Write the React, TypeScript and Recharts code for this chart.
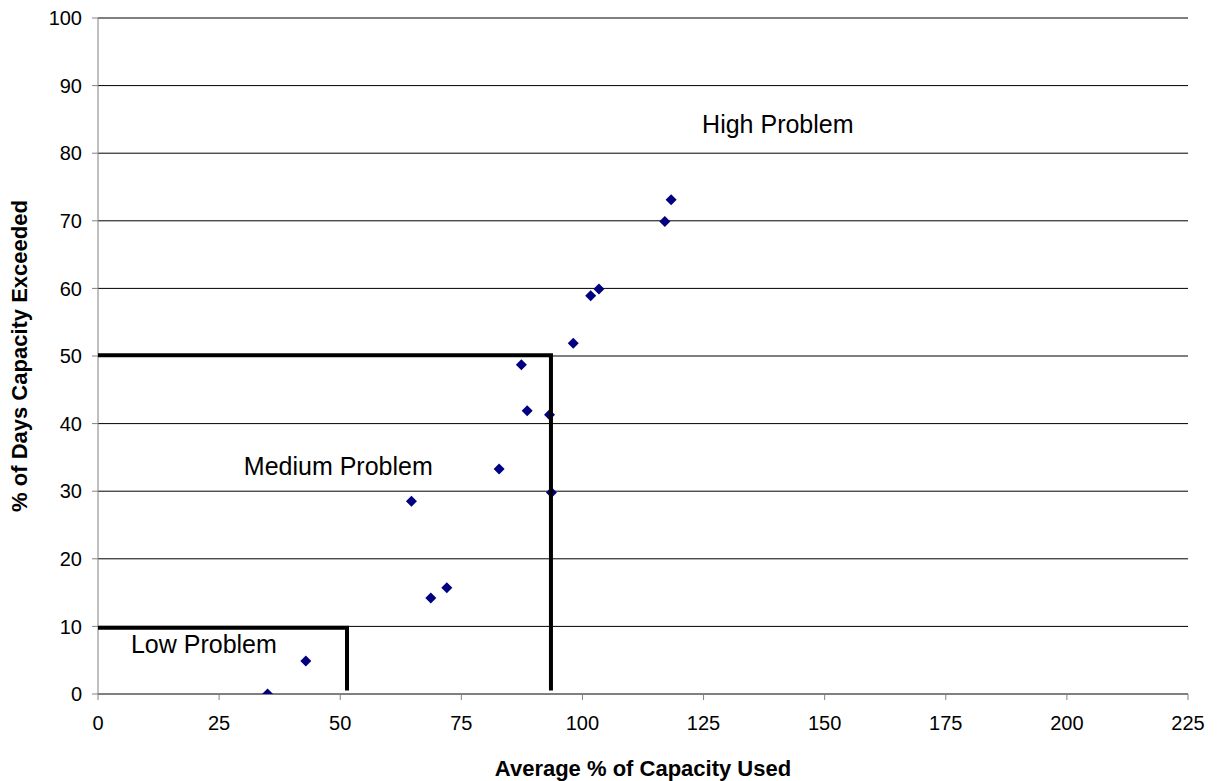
import { ScatterChart, Scatter, XAxis, YAxis, CartesianGrid, ReferenceDot, Label } from 'recharts';

// measured sites: average % of capacity used vs % of days capacity exceeded
const capacityUsed = [35, 42.9, 64.7, 68.7, 72.0, 82.8, 87.4, 88.6, 93.2, 93.6, 98.1, 101.7, 103.4, 117.0, 118.3];
const daysExceeded = [0, 4.9, 28.5, 14.2, 15.7, 33.3, 48.7, 41.9, 41.3, 29.8, 51.9, 58.9, 59.9, 69.9, 73.1];

// threshold boundaries (polylines)
const lowBoundX = [0, 51.4, 51.4];
const lowBoundY = [9.8, 9.8, 0.5];
const medBoundX = [0, 93.5, 93.5];
const medBoundY = [50.1, 50.1, 0.5];

const xTicks = [0, 25, 50, 75, 100, 125, 150, 175, 200, 225];
const yTicks = [0, 10, 20, 30, 40, 50, 60, 70, 80, 90, 100];

const zoneNames = ['High Problem', 'Medium Problem', 'Low Problem'];
const zoneX = [124.7, 30.1, 6.8];
const zoneY = [84.3, 33.7, 7.4];

const points = capacityUsed.map((x, i) => ({ x, y: daysExceeded[i] }));
const lowBound = lowBoundX.map((x, i) => ({ x, y: lowBoundY[i] }));
const medBound = medBoundX.map((x, i) => ({ x, y: medBoundY[i] }));

const FONT = '"Liberation Sans", Arial, sans-serif';

const Diamond = (props: any) => {
  const { cx, cy } = props;
  const r = 5.5;
  return (
    <path
      d={`M${cx},${cy - r}L${cx + r},${cy}L${cx},${cy + r}L${cx - r},${cy}Z`}
      fill="#000080"
    />
  );
};

const NoDot = () => null;

export default function App() {
  return (
    <div style={{ position: 'absolute', left: 0, top: 0, background: '#fff' }}>
      <ScatterChart
        width={1226}
        height={781}
        margin={{ top: 18, right: 38, bottom: 0, left: 0 }}
        style={{ fontFamily: FONT }}
      >
        <CartesianGrid vertical={false} stroke="#000" strokeWidth={1} />
        <XAxis
          type="number"
          dataKey="x"
          domain={[0, 225]}
          ticks={xTicks}
          height={87}
          stroke="#808080"
          tickSize={6}
          tickMargin={16}
          tick={{ fill: '#000', fontSize: 20 }}
          allowDataOverflow
        >
          <Label
            content={({ viewBox }: any) => (
              <text
                x={viewBox.x + viewBox.width / 2}
                y={776}
                textAnchor="middle"
                fontWeight="bold"
                fontSize={22}
                fill="#000"
              >
                Average % of Capacity Used
              </text>
            )}
          />
        </XAxis>
        <YAxis
          type="number"
          dataKey="y"
          domain={[0, 100]}
          ticks={yTicks}
          width={98}
          stroke="#808080"
          tickSize={6}
          tickMargin={10}
          tick={{ fill: '#000', fontSize: 20 }}
          allowDataOverflow
        >
          <Label
            content={({ viewBox }: any) => (
              <text
                x={27}
                y={viewBox.y + viewBox.height / 2}
                textAnchor="middle"
                fontWeight="bold"
                fontSize={22}
                fill="#000"
                transform={`rotate(-90, 27, ${viewBox.y + viewBox.height / 2})`}
              >
                % of Days Capacity Exceeded
              </text>
            )}
          />
        </YAxis>
        <Scatter data={points} shape={<Diamond />} isAnimationActive={false} />
        <Scatter
          data={lowBound}
          line={{ stroke: '#000', strokeWidth: 4 }}
          shape={<NoDot />}
          isAnimationActive={false}
        />
        <Scatter
          data={medBound}
          line={{ stroke: '#000', strokeWidth: 4 }}
          shape={<NoDot />}
          isAnimationActive={false}
        />
        {zoneNames.map((name, i) => (
          <ReferenceDot
            key={name}
            x={zoneX[i]}
            y={zoneY[i]}
            r={0}
            fill="none"
            stroke="none"
            label={{ value: name, position: 'right', offset: 0, fontSize: 25, fill: '#000' }}
          />
        ))}
      </ScatterChart>
    </div>
  );
}
